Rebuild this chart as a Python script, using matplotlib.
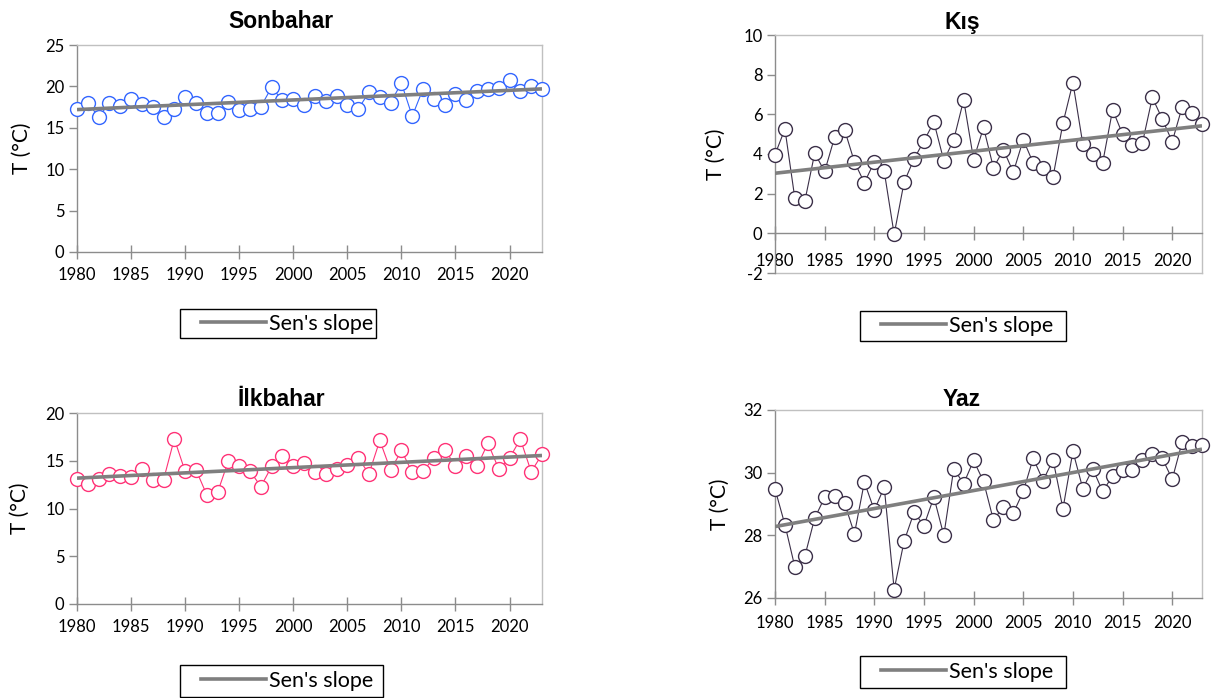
import matplotlib
matplotlib.use("Agg")
import matplotlib.pyplot as plt
from matplotlib.lines import Line2D
from matplotlib.patches import Rectangle

plt.rcParams["axes.unicode_minus"] = False

years = list(range(1980, 2024))

sonbahar = [17.3, 18.05, 16.3, 18.0, 17.6, 18.45, 17.9, 17.5, 16.3, 17.3,
            18.7, 18.0, 16.8, 16.8, 18.1, 17.15, 17.3, 17.55, 19.9, 18.3,
            18.45, 17.8, 18.9, 18.25, 18.9, 17.8, 17.25, 19.3, 18.7, 18.05,
            20.4, 16.4, 19.7, 18.45, 17.7, 19.1, 18.3, 19.4, 19.7, 19.8,
            20.8, 19.5, 20.1, 19.7]

kis = [3.97, 5.26, 1.76, 1.62, 4.04, 3.12, 4.84, 5.23, 3.6, 2.55,
       3.6, 3.12, -0.05, 2.58, 3.75, 4.66, 5.61, 3.67, 4.72, 6.73,
       3.72, 5.34, 3.3, 4.22, 3.08, 4.72, 3.55, 3.28, 2.85, 5.56,
       7.6, 4.5, 3.99, 3.57, 6.23, 5.0, 4.44, 4.56, 6.85, 5.76,
       4.62, 6.37, 6.06, 5.49]

ilkbahar = [13.1, 12.55, 13.08, 13.64, 13.36, 13.29, 14.13, 13.0, 13.0, 17.3,
            13.88, 14.06, 11.43, 11.68, 15.0, 14.4, 13.92, 12.3, 14.4, 15.45,
            14.48, 14.75, 13.78, 13.6, 14.13, 14.58, 15.28, 13.64, 17.13, 14.0,
            16.08, 13.78, 13.92, 15.28, 16.15, 14.48, 15.52, 14.4, 16.85, 14.13,
            15.28, 17.27, 13.85, 15.66]

yaz = [29.48, 28.34, 26.99, 27.33, 28.55, 29.21, 29.26, 29.03, 28.05, 29.7,
       28.8, 29.54, 26.27, 27.81, 28.73, 28.31, 29.22, 28.0, 30.12, 29.65,
       30.39, 29.72, 28.48, 28.92, 28.71, 29.4, 30.46, 29.75, 30.41, 28.85,
       30.68, 29.49, 30.12, 29.4, 29.9, 30.07, 30.07, 30.41, 30.6, 30.46,
       29.79, 30.97, 30.86, 30.89]

# Sen's slope trend lines: value at first and last year
sen_sonbahar = [17.2, 19.7]
sen_kis = [3.03, 5.42]
sen_ilkbahar = [13.18, 15.55]
sen_yaz = [28.28, 30.75]

titles = ["Sonbahar", "Kış", "İlkbahar", "Yaz"]
xticks = [1980, 1985, 1990, 1995, 2000, 2005, 2010, 2015, 2020]

W, H = 1211, 698
fig = plt.figure(figsize=(W / 100, H / 100), dpi=100)

TICKFONT = "Lato"
AXIS_C = "#8C8C8C"
FRAME_C = "#C0C0C0"


def px_axes(l, r, t, b):
    return fig.add_axes([l / W, 1 - b / H, (r - l) / W, (b - t) / H])


panels = [
    dict(box=(77, 542, 45, 252), data=sonbahar, sen=sen_sonbahar, col="#3366FF",
         ylim=(0, 25), yt=[0, 5, 10, 15, 20, 25], title=titles[0], tpos=(281, 28),
         ylx=22, leg=(287, 323.5), legbox=(180, 376, 309, 338), xaxis0=None, xpad=6),
    dict(box=(775, 1202, 35, 273), data=kis, sen=sen_kis, col="#3B2F48",
         ylim=(-2, 10), yt=[-2, 0, 2, 4, 6, 8, 10], title=titles[1], tpos=(962, 29),
         ylx=716, leg=(967, 326), legbox=(860, 1066, 311, 341), xaxis0=0, xpad=9),
    dict(box=(77, 542, 413, 604), data=ilkbahar, sen=sen_ilkbahar, col="#FF3377",
         ylim=(0, 20), yt=[0, 5, 10, 15, 20], title=titles[2], tpos=(281, 406),
         ylx=20, leg=(287, 681), legbox=(180, 383, 665, 697), xaxis0=None, xpad=6),
    dict(box=(775, 1202, 410, 598), data=yaz, sen=sen_yaz, col="#3B2F48",
         ylim=(26, 32), yt=[26, 28, 30, 32], title=titles[3], tpos=(962, 406),
         ylx=720, leg=(967, 672), legbox=(860, 1066, 656, 688), xaxis0=None, xpad=7),
]

for p in panels:
    l, r, t, b = p["box"]
    ax = px_axes(l, r, t, b)
    ax.set_xlim(1980, 2023)
    ax.set_ylim(*p["ylim"])
    ax.plot(years, p["data"], color=p["col"], lw=0.8, marker="o", ms=10,
            mfc="white", mec=p["col"], mew=1.0, zorder=3, clip_on=False)
    ax.plot([years[0], years[-1]], p["sen"], color="#7F7F7F", lw=2.6,
            zorder=4, solid_capstyle="butt")
    for s in ["top", "right"]:
        ax.spines[s].set_color(FRAME_C)
        ax.spines[s].set_linewidth(1.0)
    ax.spines["left"].set_color(AXIS_C)
    ax.spines["bottom"].set_color(AXIS_C)
    ax.spines["left"].set_linewidth(1.0)
    ax.spines["bottom"].set_linewidth(1.0)
    if p["xaxis0"] is not None:
        ax.spines["bottom"].set_position(("data", p["xaxis0"]))
        ax.plot([0, 1], [0, 0], transform=ax.transAxes, color=FRAME_C, lw=1.0,
                clip_on=False, zorder=1)
    ax.set_xticks(xticks)
    ax.set_yticks(p["yt"])
    ax.tick_params(axis="x", direction="inout", length=10, width=1.0,
                   color=AXIS_C, pad=p["xpad"], labelsize=12)
    ax.tick_params(axis="y", direction="out", length=6, width=1.0,
                   color=AXIS_C, pad=3, labelsize=12)
    for lab in ax.get_xticklabels() + ax.get_yticklabels():
        lab.set_fontfamily(TICKFONT)
    fig.text(p["ylx"] / W, 1 - ((t + b) / 2) / H, "T (°C)", rotation=90,
             ha="center", va="center", fontsize=15, fontfamily=TICKFONT)
    fig.text(p["tpos"][0] / W, 1 - p["tpos"][1] / H, p["title"], ha="center",
             va="baseline", fontsize=16.5, fontweight="bold",
             fontfamily="Liberation Sans")
    handle = Line2D([], [], color="#7F7F7F", lw=2.6)
    fig.legend([handle], ["Sen's slope"], loc="center",
               bbox_to_anchor=(p["leg"][0] / W, 1 - p["leg"][1] / H),
               frameon=False, handlelength=3.0, borderpad=0.0,
               handletextpad=0.15, borderaxespad=0,
               prop={"family": TICKFONT, "size": 15.5})
    bl, br, bt, bb = p["legbox"]
    fig.patches.append(Rectangle((bl / W, 1 - bb / H), (br - bl) / W, (bb - bt) / H,
                                 transform=fig.transFigure, fill=False,
                                 edgecolor="black", lw=1.0))

fig.savefig("out.png", dpi=100)
